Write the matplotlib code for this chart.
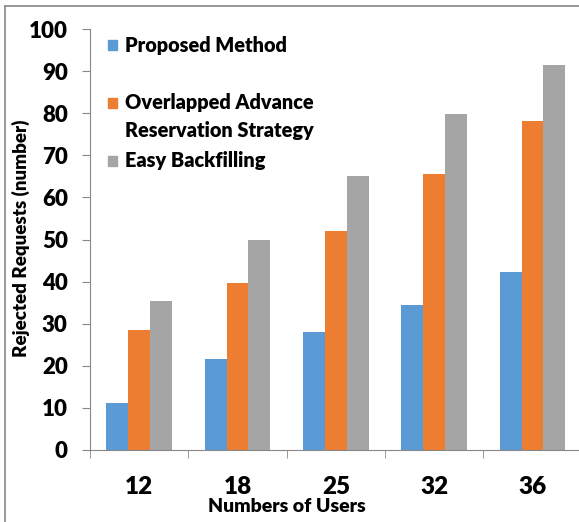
import matplotlib
matplotlib.use("Agg")
import matplotlib.pyplot as plt
from matplotlib.patches import Rectangle
from matplotlib.lines import Line2D
import numpy as np

users = ["12", "18", "25", "32", "36"]
series_names = ["Proposed Method",
                "Overlapped Advance\nReservation Strategy",
                "Easy Backfilling"]
proposed = [11.2, 21.6, 28.1, 34.4, 42.2]
overlapped = [28.4, 39.6, 52.1, 65.6, 78.2]
easy = [35.4, 49.8, 65.2, 79.7, 91.5]
colors = ["#5B9BD5", "#ED7D31", "#A5A5A5"]

W, H = 579, 522
WT = "heavy"
plt.rcParams["font.family"] = ["Lato", "DejaVu Sans"]
plt.rcParams["font.weight"] = WT

fig = plt.figure(figsize=(W / 100, H / 100), dpi=100)


def fx(x):
    return x / W


def fy(y):
    return 1 - y / H


ax = fig.add_axes([fx(90), fy(450), (581.7 - 90) / W, (450 - 29) / H])

x = np.arange(len(users))
bw = 0.222
for i, vals in enumerate([proposed, overlapped, easy]):
    ax.bar(x + (i - 1) * bw, vals, width=bw, color=colors[i], linewidth=0)

ax.set_xlim(-0.5, len(users) - 0.5)
ax.set_ylim(0, 100)
ax.set_yticks(range(0, 101, 10))
ax.tick_params(axis="y", labelsize=16, length=6, color="#888888", pad=10)
ax.set_xticks(x)
ax.set_xticklabels(users)
ax.set_xticks(np.arange(-0.5, len(users)), minor=True)
ax.tick_params(axis="x", which="major", labelsize=17.5, length=0, pad=19)
ax.tick_params(axis="x", which="minor", length=6, color="#888888")
for s in ["top", "right"]:
    ax.spines[s].set_visible(False)
for s in ["left", "bottom"]:
    ax.spines[s].set_color("#888888")

ax.set_xlabel("Numbers of Users", fontsize=14, fontweight=WT)
ax.xaxis.set_label_coords((287 - 90) / 491.7, (450 - 498) / 421)
ax.set_ylabel("Rejected Requests (number)", fontsize=13.5, fontweight=WT)
ax.yaxis.set_label_coords((30 - 90) / 491.7, (450 - 238) / 421)

# legend laid out like the original
leg_rows = [[45], [103, 131], [161]]
for name, c, rows in zip(series_names, colors, leg_rows):
    fig.patches.append(Rectangle((fx(108), fy(rows[0] + 4.5)), 9 / W, 9 / H,
                                 transform=fig.transFigure, color=c))
    for line, yy in zip(name.split("\n"), rows):
        fig.text(fx(125), fy(yy), line, fontsize=14.3, fontweight=WT,
                 va="center", ha="left")

# outer frame
fig.lines.append(Line2D([fx(5), fx(5)], [0, fy(6)], transform=fig.transFigure,
                        color="#888888", lw=1.2))
fig.lines.append(Line2D([fx(5), 1], [fy(6), fy(6)], transform=fig.transFigure,
                        color="#888888", lw=1.2))

fig.savefig("out.png", dpi=100)
